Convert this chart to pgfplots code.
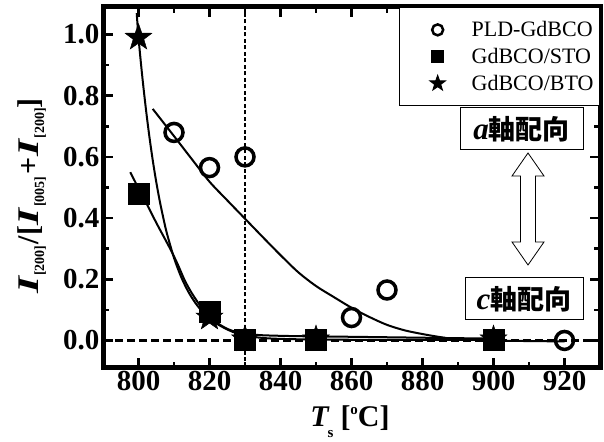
\documentclass[border=0pt]{standalone}
\usepackage{fontspec}
\setmainfont{Liberation Serif}
\newfontfamily\cjk{Noto Sans CJK JP}
\usepackage{graphicx}
\usepackage{pgfplots}
\pgfplotsset{compat=1.18}
\pgfdeclareplotmark{fstar}{%
  \pgfpathmoveto{\pgfpointpolar{90}{\pgfplotmarksize}}%
  \pgfpathlineto{\pgfpointpolar{126}{0.40\pgfplotmarksize}}%
  \pgfpathlineto{\pgfpointpolar{162}{\pgfplotmarksize}}%
  \pgfpathlineto{\pgfpointpolar{198}{0.40\pgfplotmarksize}}%
  \pgfpathlineto{\pgfpointpolar{234}{\pgfplotmarksize}}%
  \pgfpathlineto{\pgfpointpolar{270}{0.40\pgfplotmarksize}}%
  \pgfpathlineto{\pgfpointpolar{306}{\pgfplotmarksize}}%
  \pgfpathlineto{\pgfpointpolar{342}{0.40\pgfplotmarksize}}%
  \pgfpathlineto{\pgfpointpolar{18}{\pgfplotmarksize}}%
  \pgfpathlineto{\pgfpointpolar{54}{0.40\pgfplotmarksize}}%
  \pgfpathclose
  \pgfusepathqfillstroke
}
\newcommand\bigI{\scalebox{1.45}[1]{\textbf{\textit{I}}}}
\newcommand\subs[1]{\raisebox{-6pt}{\fontsize{14}{14}\selectfont\bfseries #1}}
\begin{document}
\begin{tikzpicture}
\begin{axis}[
  at={(103pt,73pt)}, anchor=south west, scale only axis,
  width=497pt, height=361pt,
  xmin=790, xmax=930, ymin=-0.09, ymax=1.09,
  xtick={800,820,...,920}, minor x tick num=1,
  ytick={0,0.2,0.4,0.6,0.8,1.0}, minor y tick num=1,
  tick align=inside, major tick length=10pt, minor tick length=6pt,
  every tick/.style={line width=2.5pt, black},
  axis line style={line width=5pt},
  ticklabel style={font=\fontsize{29}{29}\selectfont\bfseries},
  /pgf/number format/assume math mode=true,
  yticklabel style={/pgf/number format/.cd, fixed, fixed zerofill, precision=1},
  legend style={at={(rel axis cs:1,1)}, anchor=north east, draw=black, line width=1pt,
    fill=white, font=\fontsize{22}{22}\selectfont, row sep=6pt,
    inner xsep=4pt, inner ysep=12pt},
  legend cell align=left,
  legend image code/.code={\path[draw=none,fill=none] (-34pt,0pt) (32pt,0pt); \draw[#1] plot coordinates {(0pt,0pt)};},
]
% reference lines
\addplot[forget plot, line width=2.2pt, dash pattern=on 8pt off 4pt] coordinates {(790,0) (930,0)};
\addplot[forget plot, line width=2.4pt, dash pattern=on 4pt off 2.5pt] coordinates {(830,-0.09) (830,1.09)};
% PLD fit curve
\addplot[forget plot, smooth, line width=2pt] coordinates {
 (804,0.757) (810,0.668) (815,0.593) (820,0.519) (825,0.458) (830,0.398) (835,0.338)
 (840,0.279) (845,0.223) (850,0.178) (855,0.142) (860,0.107) (865,0.077) (870,0.051)
 (875,0.033) (880,0.021) (885,0.011) (890,0.004) (900,0.000) (910,-0.002) (920,-0.003)};
% PLD-GdBCO data
\addplot[forget plot, only marks, mark=o, mark size=9pt, line width=3.5pt] coordinates {
 (810,0.68) (820,0.565) (830,0.60) (860,0.075) (870,0.165) (920,0.0)};
% BTO fit curve
\addplot[forget plot, smooth, line width=2pt] coordinates {
 (799.5,1.07) (800,0.99) (801,0.87) (802,0.765) (803,0.672) (804,0.59) (805,0.518)
 (806,0.455) (807,0.40) (808,0.35) (810,0.27) (812,0.208) (814,0.16) (816,0.123)
 (818,0.094) (820,0.072) (822,0.055) (825,0.036) (828,0.022) (832,0.012) (838,0.006)
 (850,0.003) (870,0.002) (900,0.002)};
% STO fit curve
\addplot[forget plot, smooth, line width=2pt] coordinates {
 (797.7,0.55) (800,0.497) (802.5,0.442) (805,0.385) (809,0.298) (811,0.25) (813,0.197)
 (815,0.155) (817.5,0.112) (820,0.080) (822.5,0.055) (825,0.038) (827.5,0.028)
 (830,0.022) (835,0.017) (845,0.014) (860,0.012) (880,0.009) (900,0.006)};
% GdBCO/BTO data
\addplot[forget plot, only marks, mark=fstar, mark size=14pt, line width=0.5pt,
  mark options={fill=black}] coordinates {
 (800,0.99) (820,0.075) (830,0.004) (850,0.004) (900,0.004)};
% GdBCO/STO data
\addplot[forget plot, only marks, mark=square*, mark size=10.5pt, line width=1pt] coordinates {
 (800,0.48) (820,0.093) (830,0.0) (850,0.0) (900,0.0)};
% legend
\addlegendimage{only marks, mark=o, mark size=5.5pt, line width=2.5pt}
\addlegendentry{PLD-GdBCO}
\addlegendimage{only marks, mark=square*, mark size=6pt}
\addlegendentry{GdBCO/STO}
\addlegendimage{only marks, mark=fstar, mark size=8pt, mark options={fill=black}}
\addlegendentry{GdBCO/BTO}
\end{axis}
% annotations
\node[draw, line width=1pt, minimum width=123pt, minimum height=42pt, inner sep=0pt]
  at (521.5pt,312pt) {{\fontsize{31}{31}\selectfont\bfseries\itshape a}{\cjk\bfseries\fontsize{27}{27}\selectfont 軸配向}};
\node[draw, line width=1pt, minimum width=118pt, minimum height=42pt, inner sep=0pt]
  at (524pt,142pt) {{\fontsize{31}{31}\selectfont\bfseries\itshape c}{\cjk\bfseries\fontsize{27}{27}\selectfont 軸配向}};
\begin{scope}[shift={(528pt,232pt)}]
\draw[line width=0.8pt, fill=white] (0pt,56pt) -- (16pt,33pt) -- (7.5pt,33pt) -- (7.5pt,-33pt)
  -- (16pt,-33pt) -- (0pt,-56pt) -- (-16pt,-33pt) -- (-7.5pt,-33pt) -- (-7.5pt,33pt)
  -- (-16pt,33pt) -- cycle;
\end{scope}
% axis labels
\node[rotate=90, anchor=base, inner sep=0pt] at (38pt,245pt)
  {\fontsize{30}{30}\selectfont\bfseries \bigI\subs{[200]}\kern1pt/\kern1pt[\bigI\subs{[005]}\kern2pt+\kern1pt\bigI\subs{[200]}]};
\node[anchor=base, inner sep=0pt] at (350pt,14pt)
  {\fontsize{30}{30}\selectfont\bfseries\textit{T}\kern-2pt\raisebox{-10pt}{\fontsize{15}{15}\selectfont s}\kern7pt[\raisebox{12pt}{\fontsize{15}{15}\selectfont o}C]};
\pgfresetboundingbox
\path[use as bounding box] (0pt,0pt) rectangle (604pt,441pt);
\end{tikzpicture}
\end{document}
